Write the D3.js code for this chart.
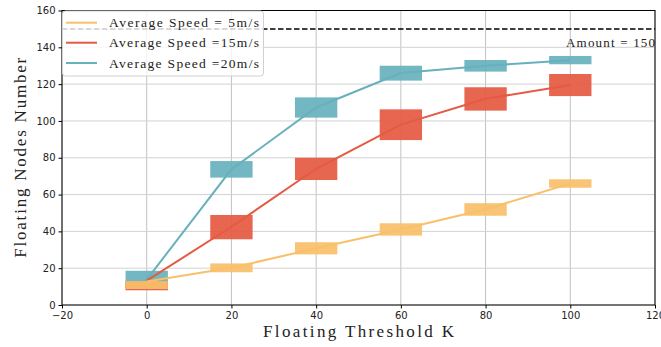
<!DOCTYPE html>
<html>
<head>
<meta charset="utf-8">
<script src="https://cdn.jsdelivr.net/npm/d3@7"></script>
<style>
  html, body { margin: 0; padding: 0; background: #fff; }
  svg { display: block; }
</style>
</head>
<body>
<svg id="chart" width="661" height="347"></svg>
<script>
// Floating threshold K (x positions of each measurement)
const thresholds = [0, 20, 40, 60, 80, 100];

// Series labels and colours
const seriesNames = ["Average Speed = 5m/s", "Average Speed =15m/s", "Average Speed =20m/s"];
const seriesColors = ["#f9c06a", "#e55a43", "#67b1bc"];

// Mean floating node counts (line values)
const speed5Mean  = [12.8, 20.2, 30.8, 41.0, 52.0, 66.0];
const speed15Mean = [13.2, 42.5, 74.0, 98.0, 112.0, 119.5];
const speed20Mean = [13.8, 73.7, 107.3, 126.0, 130.0, 133.0];

// Spread of the floating node counts (box lower / upper bounds)
const speed5Low   = [8.7, 17.8, 27.5, 37.7, 48.5, 63.7];
const speed5High  = [13.0, 22.6, 34.1, 44.4, 55.3, 68.3];
const speed15Low  = [8.0, 35.7, 67.9, 89.6, 105.6, 113.5];
const speed15High = [13.0, 48.9, 80.0, 106.3, 118.3, 125.5];
const speed20Low  = [9.0, 69.2, 101.8, 121.9, 126.8, 130.8];
const speed20High = [18.6, 78.2, 112.8, 130.0, 133.1, 135.3];

// Node amount reference
const amount = 150;
const amountLabel = "Amount = 150";

// Axis ticks and titles
const xTicks = [-20, 0, 20, 40, 60, 80, 100, 120];
const yTicks = [0, 20, 40, 60, 80, 100, 120, 140, 160];
const xTitle = "Floating Threshold K";
const yTitle = "Floating Nodes Number";

const boxHalfWidth = 5; // box spans K ± 5

const svg = d3.select("#chart");
const plot = { left: 62, right: 655, top: 10.5, bottom: 305 };

const x = d3.scaleLinear().domain([-20, 120]).range([plot.left, plot.right]);
const y = d3.scaleLinear().domain([0, 160]).range([plot.bottom, plot.top]);

const serifFont = "'Liberation Serif', 'DejaVu Serif', serif";
const sansFont = "'DejaVu Sans', sans-serif";

// Grid
const grid = svg.append("g");
grid.selectAll("line.v").data(xTicks).join("line")
  .attr("class", "v")
  .attr("x1", d => x(d)).attr("x2", d => x(d))
  .attr("y1", plot.top).attr("y2", plot.bottom)
  .attr("stroke", "#c2c2c2").attr("stroke-width", 1);
grid.selectAll("line.h").data(yTicks).join("line")
  .attr("class", "h")
  .attr("x1", plot.left).attr("x2", plot.right)
  .attr("y1", d => y(d)).attr("y2", d => y(d))
  .attr("stroke", "#d2d2d2").attr("stroke-width", 1);

// Dashed total-amount line
svg.append("line")
  .attr("x1", plot.left).attr("x2", plot.right)
  .attr("y1", y(amount)).attr("y2", y(amount))
  .attr("stroke", "#000").attr("stroke-width", 1.5)
  .attr("stroke-dasharray", "5.5,2.5");

svg.append("text")
  .attr("x", plot.right).attr("y", y(amount) + 18)
  .attr("text-anchor", "end")
  .attr("font-family", serifFont).attr("font-size", 13)
  .attr("textLength", 89).attr("lengthAdjust", "spacing")
  .attr("fill", "#222")
  .text(amountLabel);

// Series definition
const series = [
  { name: seriesNames[2], color: seriesColors[2], mean: speed20Mean, low: speed20Low, high: speed20High },
  { name: seriesNames[1], color: seriesColors[1], mean: speed15Mean, low: speed15Low, high: speed15High },
  { name: seriesNames[0], color: seriesColors[0], mean: speed5Mean,  low: speed5Low,  high: speed5High }
];

// Boxes
series.forEach(s => {
  svg.append("g").selectAll("rect").data(thresholds).join("rect")
    .attr("x", d => x(d - boxHalfWidth))
    .attr("width", d => x(d + boxHalfWidth) - x(d - boxHalfWidth))
    .attr("y", (d, i) => y(s.high[i]))
    .attr("height", (d, i) => y(s.low[i]) - y(s.high[i]))
    .attr("fill", s.color)
    .attr("fill-opacity", 0.93);
});

// Mean lines
const line = d3.line().x(d => x(d[0])).y(d => y(d[1]));
series.forEach(s => {
  svg.append("path")
    .datum(thresholds.map((t, i) => [t, s.mean[i]]))
    .attr("d", line)
    .attr("fill", "none")
    .attr("stroke", s.color)
    .attr("stroke-width", 2);
});

// Axes
const xAxis = d3.axisBottom(x).tickValues(xTicks).tickSize(3.5).tickSizeOuter(0).tickPadding(3);
const yAxis = d3.axisLeft(y).tickValues(yTicks).tickSize(3.5).tickSizeOuter(0).tickPadding(3);

const gx = svg.append("g").attr("transform", `translate(0,${plot.bottom})`).call(xAxis);
const gy = svg.append("g").attr("transform", `translate(${plot.left},0)`).call(yAxis);
[gx, gy].forEach(g => {
  g.select(".domain").remove();
  g.selectAll("text").attr("font-family", sansFont).attr("font-size", 10).attr("fill", "#222");
  g.selectAll("line").attr("stroke", "#000");
});

// Frame
svg.append("rect")
  .attr("x", plot.left).attr("y", plot.top)
  .attr("width", plot.right - plot.left).attr("height", plot.bottom - plot.top)
  .attr("fill", "none").attr("stroke", "#000").attr("stroke-width", 1);

// Axis titles
svg.append("text")
  .attr("x", (plot.left + plot.right) / 2).attr("y", 337)
  .attr("text-anchor", "middle")
  .attr("font-family", serifFont).attr("font-size", 17)
  .attr("textLength", 191).attr("lengthAdjust", "spacing")
  .attr("fill", "#222")
  .text(xTitle);

svg.append("text")
  .attr("transform", `translate(26,${(plot.top + plot.bottom) / 2}) rotate(-90)`)
  .attr("text-anchor", "middle")
  .attr("font-family", serifFont).attr("font-size", 17)
  .attr("textLength", 200).attr("lengthAdjust", "spacing")
  .attr("fill", "#222")
  .text(yTitle);

// Legend
const legendItems = [
  { name: seriesNames[0], color: seriesColors[0] },
  { name: seriesNames[1], color: seriesColors[1] },
  { name: seriesNames[2], color: seriesColors[2] }
];
const legend = svg.append("g");
legend.append("rect")
  .attr("x", plot.left + 0.5).attr("y", plot.top + 0.5)
  .attr("width", 201).attr("height", 65)
  .attr("rx", 3)
  .attr("fill", "#fff").attr("fill-opacity", 0.8)
  .attr("stroke", "#d0d0d0").attr("stroke-width", 1);
const rowY = [22.7, 42.7, 63.0];
legendItems.forEach((d, i) => {
  legend.append("line")
    .attr("x1", 66).attr("x2", 97)
    .attr("y1", rowY[i]).attr("y2", rowY[i])
    .attr("stroke", d.color).attr("stroke-width", 2);
  legend.append("text")
    .attr("x", 109).attr("y", rowY[i] + 4.5)
    .attr("font-family", serifFont).attr("font-size", 13.5)
    .attr("textLength", 150).attr("lengthAdjust", "spacing")
    .attr("fill", "#222")
    .text(d.name);
});
</script>
</body>
</html>
